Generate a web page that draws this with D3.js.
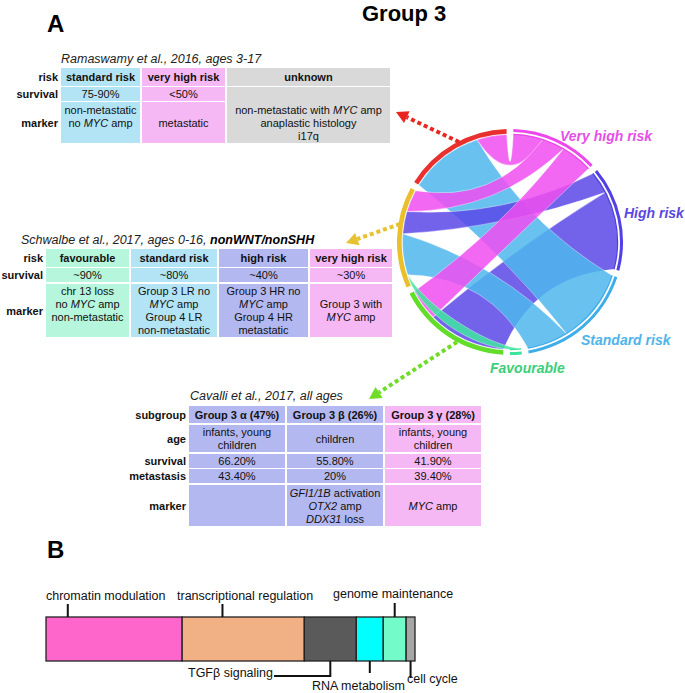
<!DOCTYPE html>
<html><head><meta charset="utf-8">
<script src="https://cdn.jsdelivr.net/npm/d3@7"></script>
<style>body{margin:0;background:#fff} svg{display:block} text{font-family:"Liberation Sans",Arial,sans-serif}</style>
</head><body><svg id="c" width="685" height="693"></svg>
<script>
// ---------------- DATA ----------------
// Ramaswamy et al. 2016
const ramaswamyRowLabels = ["risk","survival","marker"];
const ramaswamyRisk = ["standard risk","very high risk","unknown"];
const ramaswamySurvival = ["75-90%","<50%",""];
const ramaswamyMarker = [["non-metastatic","no *MYC* amp",""],["metastatic"],["non-metastatic with *MYC* amp","anaplastic histology","i17q"]];
// Schwalbe et al. 2017
const schwalbeRowLabels = ["risk","survival","marker"];
const schwalbeRisk = ["favourable","standard risk","high risk","very high risk"];
const schwalbeSurvival = ["~90%","~80%","~40%","~30%"];
const schwalbeMarker = [["chr 13 loss","no *MYC* amp","non-metastatic",""],["Group 3 LR no","*MYC* amp","Group 4 LR","non-metastatic"],["Group 3 HR no","*MYC* amp","Group 4 HR","metastatic"],["Group 3 with","*MYC* amp"]];
// Cavalli et al. 2017
const cavalliRowLabels = ["subgroup","age","survival","metastasis","marker"];
const cavalliSubgroup = ["Group 3 α (47%)","Group 3 β (26%)","Group 3 γ (28%)"];
const cavalliAge = [["infants, young","children"],["children"],["infants, young","children"]];
const cavalliSurvival = ["66.20%","55.80%","41.90%"];
const cavalliMetastasis = ["43.40%","20%","39.40%"];
const cavalliMarker = [[""],["*GFI1/1B* activation","*OTX2* amp","*DDX31* loss"],["*MYC* amp"]];
// Chord diagram
const chordGroups = ["Very high risk","High risk","Standard risk","Favourable","Cavalli","Schwalbe","Ramaswamy"];
const linkSource = ["Cavalli","Ramaswamy","Schwalbe","Schwalbe","Ramaswamy","Schwalbe","Cavalli","Schwalbe"];
const linkTarget = ["High risk","Standard risk","Standard risk","High risk","Very high risk","Very high risk","Very high risk","Favourable"];
const linkValue  = [42,40,22,12,16,12,17,6];
// Panel B
const pathwayNames = ["chromatin modulation","transcriptional regulation","TGFβ signaling","RNA metabolism","genome maintenance","cell cycle"];
const pathwayShare = [36.9,33.1,14.1,7.3,6.2,2.4];

// ---------------- STYLE / LAYOUT ----------------
const LB="#b3e4f6", PK="#f5b8f4", GR="#d9d9d9", MINT="#b5f6dc", LAV="#b4b8f0";
const groupColor = {"Very high risk":"#ec46ec","High risk":"#5140e4","Standard risk":"#3eaeea","Favourable":"#3de39a",
  "Cavalli":"#62dd2a","Schwalbe":"#e9c02b","Ramaswamy":"#e8312f"};
const ribbonColor = {"Very high risk":"#f04ef0","High risk":"#5b48e8","Standard risk":"#4db6ec","Favourable":"#3fe6a0"};
const hugTargets = ["Favourable"];
const pathwayColors = ["#ff66cc","#f2b085","#5a5a5a","#00ffff","#73fbc9","#a6a6a6"];

const svg = d3.select("#c");
const FS = 11, LH = 13;

function richText(sel, str){
  str.split("*").forEach((seg,i)=>{ if(seg.length) sel.append("tspan").attr("font-style", i%2?"italic":null).text(seg); });
}
function lines(g, arr, x, cyy, opt={}){
  const n = arr.length;
  arr.forEach((ln,i)=>{
    const t = g.append("text").attr("x",x).attr("y", cyy + (i-(n-1)/2)*LH + 4)
      .attr("text-anchor", opt.anchor||"middle").attr("font-size",FS)
      .attr("font-weight", opt.bold?"bold":null).attr("fill","#111");
    richText(t, ln);
  });
}
function table(cfg){
  const g = svg.append("g");
  cfg.rowLabels.forEach((lab,r)=>{
    lines(g,[lab],cfg.labelX,(cfg.rows[r][0]+cfg.rows[r][1])/2,{anchor:"end",bold:true});
  });
  cfg.cells.forEach((row,r)=>{
    row.forEach((cell,c)=>{
      if(cell===null) return;
      const [x0,x1]=cfg.cols[c]; let [y0,y1]=cfg.rows[r];
      const span = cell.span||1; const y1b = cfg.rows[r+span-1][1];
      g.append("rect").attr("x",x0).attr("y",y0).attr("width",x1-x0).attr("height",y1b-y0).attr("fill",cfg.colors[c]);
      const ty = cell.textRow!==undefined ? (cfg.rows[cell.textRow][0]+cfg.rows[cell.textRow][1])/2 : (y0+y1b)/2;
      lines(g, cell.lines, (x0+x1)/2, ty, {bold:r===0});
    });
  });
  return g;
}
function title(x,y,parts){
  const t = svg.append("text").attr("x",x).attr("y",y).attr("font-size",12.5).attr("font-style","italic").attr("fill","#222");
  parts.forEach(p=>t.append("tspan").attr("font-weight",p.b?"bold":null).attr("fill",p.b?"#000":null).text(p.t));
}

// Headings
svg.append("text").attr("x",47).attr("y",32).attr("font-size",24).attr("font-weight","bold").text("A");
svg.append("text").attr("x",362).attr("y",21).attr("font-size",22).attr("font-weight","bold").text("Group 3");
svg.append("text").attr("x",47).attr("y",558).attr("font-size",24).attr("font-weight","bold").text("B");

// Ramaswamy table
title(61,63,[{t:"Ramaswamy et al., 2016, ages 3-17"}]);
table({labelX:58, rowLabels:ramaswamyRowLabels,
  cols:[[61,140],[142,225],[227,390]], rows:[[68,86],[87,101],[102,143]], colors:[LB,PK,GR],
  cells:[ramaswamyRisk.map(s=>({lines:[s]})),
         ramaswamySurvival.map((s,i)=> i===2 ? {lines:ramaswamyMarker[2], span:2, textRow:2} : {lines:[s]}),
         ramaswamyMarker.map((m,i)=> i===2 ? null : {lines:m})]});

// Schwalbe table
title(21,244,[{t:"Schwalbe et al., 2017, ages 0-16, "},{t:"nonWNT/nonSHH",b:true}]);
table({labelX:43, rowLabels:schwalbeRowLabels,
  cols:[[46,129],[131,217],[219,308],[310,392]], rows:[[249,267],[268,282],[284,337]], colors:[MINT,LB,LAV,PK],
  cells:[schwalbeRisk.map(s=>({lines:[s]})), schwalbeSurvival.map(s=>({lines:[s]})), schwalbeMarker.map(m=>({lines:m}))]});

// Cavalli table
title(190,400,[{t:"Cavalli et al., 2017, all ages"}]);
table({labelX:186, rowLabels:cavalliRowLabels,
  cols:[[189,285],[287,383],[385,481]], rows:[[406,423],[425,452],[454,468],[469,483],[485,526]], colors:[LAV,LAV,PK],
  cells:[cavalliSubgroup.map(s=>({lines:[s]})), cavalliAge.map(a=>({lines:a})), cavalliSurvival.map(s=>({lines:[s]})),
         cavalliMetastasis.map(s=>({lines:[s]})), cavalliMarker.map(m=>({lines:m}))]});

// ---------------- CHORD ----------------
const CX=510, CY=242, R_OUT=113, R_RIB=107.5;
const pad = 3.5*Math.PI/180;
const links = linkSource.map((s,i)=>({s, t:linkTarget[i], v:linkValue[i]}));
const total = d3.sum(linkValue)*2;
const k = (2*Math.PI - pad*chordGroups.length)/total;
const gIndex = new Map(chordGroups.map((g,i)=>[g,i]));
let ang = pad/2;
const groupArcs = chordGroups.map((g,gi)=>{
  const start = ang;
  links.filter(l=>l.s===g||l.t===g).map(l=>({l, other: l.s===g? l.t : l.s}))
    .sort((a,b)=>gIndex.get(b.other)-gIndex.get(a.other))
    .forEach(m=>{ const a0=ang; ang += m.l.v*k; if(m.l.s===g) m.l.sa=[a0,ang]; else m.l.ta=[a0,ang]; });
  const end = ang; ang += pad;
  return {g, gi, start, end, right: gi<4};
});
const pt = (th,r)=>[r*Math.sin(th), -r*Math.cos(th)];
function edge(p,a,b,hug){
  let d=b-a; while(d>Math.PI) d-=2*Math.PI; while(d<=-Math.PI) d+=2*Math.PI;
  if(hug){
    const n=48;
    for(let j=1;j<=n;j++){ const t=j/n; const q=pt(a+d*t, R_RIB-hug*Math.sin(Math.PI*t)); p.lineTo(q[0],q[1]); }
  } else {
    const c = pt(a+d/2, 0.5*R_RIB*Math.cos(Math.abs(d)/2)); const e = pt(b,R_RIB);
    p.quadraticCurveTo(c[0],c[1],e[0],e[1]);
  }
}
function ribbonPath(l){
  const p=d3.path(); const [s0,s1]=l.sa, [t0,t1]=l.ta; const h=hugTargets.includes(l.t);
  const q=pt(s0,R_RIB); p.moveTo(q[0],q[1]);
  p.arc(0,0,R_RIB,s0-Math.PI/2,s1-Math.PI/2);
  edge(p,s1,t0,h?12:0);
  p.arc(0,0,R_RIB,t0-Math.PI/2,t1-Math.PI/2);
  edge(p,t1,s0,h?4:0);
  p.closePath(); return p.toString();
}
const chordG = svg.append("g").attr("transform",`translate(${CX},${CY})`);
chordG.selectAll("path.rib").data(links).join("path").attr("class","rib")
  .attr("d",ribbonPath).attr("fill",d=>ribbonColor[d.t]).attr("fill-opacity",0.85)
  .attr("stroke","#fff").attr("stroke-width",0.5).attr("stroke-opacity",0.8);
const arcOuter = d3.arc();
chordG.selectAll("path.grp").data(groupArcs).join("path").attr("class","grp")
  .attr("d",d=>arcOuter({innerRadius:d.right?110:108.3, outerRadius:R_OUT, startAngle:d.start, endAngle:d.end}))
  .attr("fill",d=>groupColor[d.g]);
chordG.selectAll("path.grpin").data(groupArcs.filter(d=>d.right)).join("path").attr("class","grpin")
  .attr("d",d=>arcOuter({innerRadius:106.8, outerRadius:108.2, startAngle:d.start, endAngle:d.end}))
  .attr("fill",d=>groupColor[d.g]);

// chord labels
const chordLabels = [["Very high risk",560,141],["High risk",624,218],["Standard risk",581,345],["Favourable",490,373]];
const labelColor = {"Very high risk":"#e64fe6","High risk":"#5b47e2","Standard risk":"#4fb4ea","Favourable":"#3acf78"};
chordLabels.forEach(([t,x,y])=>svg.append("text").attr("x",x).attr("y",y).attr("font-size",14).attr("font-weight","bold")
  .attr("font-style","italic").attr("fill",labelColor[t]).text(t));

// dotted arrows
function arrow(x1,y1,x2,y2,color){
  const dx=x2-x1, dy=y2-y1, L=Math.hypot(dx,dy), ux=dx/L, uy=dy/L;
  const bx=x2-ux*12, by=y2-uy*12;
  svg.append("line").attr("x1",x1).attr("y1",y1).attr("x2",bx).attr("y2",by)
    .attr("stroke",color).attr("stroke-width",4).attr("stroke-dasharray","4 3");
  svg.append("polygon").attr("points",[[x2,y2],[bx-uy*6.5,by+ux*6.5],[bx+uy*6.5,by-ux*6.5]].map(p=>p.join(",")).join(" "))
    .attr("fill",color);
}
arrow(459,142,396,112,"#e8261f");
arrow(400,224,346,243,"#e6c230");
arrow(457,342,369,399,"#6fdc28");

// ---------------- PANEL B ----------------
const x = d3.scaleLinear().domain([0,d3.sum(pathwayShare)]).range([46,415]);
const cum = d3.cumsum(pathwayShare); const starts = [0,...cum.slice(0,-1)];
const BY0=617, BY1=661;
const segs = pathwayNames.map((n,i)=>({n, x0:x(starts[i]), x1:x(cum[i]), c:pathwayColors[i]}));
svg.append("g").selectAll("rect").data(segs).join("rect")
  .attr("x",d=>d.x0).attr("y",BY0).attr("width",d=>d.x1-d.x0).attr("height",BY1-BY0)
  .attr("fill",d=>d.c).attr("stroke","#222").attr("stroke-width",1.3);
// label layout: [side, leader fraction in segment, text x, anchor, text baseline, leader end y]
const bLayout = [["top",0.16,46,"start",600,604],["top",0.33,177,"start",600,604],["elbow",0.5,273,"end",677,676],
                 ["bottom",0.5,405,"end",690,673],["top",0.5,333,"start",598,603],["bottom",0.5,407,"start",683,678]];
const bg = svg.append("g");
segs.forEach((s,i)=>{
  const [side,f,tx,anc,ty,ly] = bLayout[i];
  const lx = s.x0 + (s.x1-s.x0)*f;
  if(side==="top") bg.append("line").attr("x1",lx).attr("x2",lx).attr("y1",ly).attr("y2",BY0);
  else if(side==="bottom") bg.append("line").attr("x1",lx).attr("x2",lx).attr("y1",BY1).attr("y2",ly);
  else bg.append("path").attr("d",`M${lx},${BY1}V${ly}H${tx+1}`).attr("fill","none");
  bg.append("text").attr("x",tx).attr("y",ty).attr("text-anchor",anc).attr("font-size",12.5).attr("fill","#111").text(s.n);
});
bg.selectAll("line,path").attr("stroke","#111").attr("stroke-width",2);
</script></body></html>
